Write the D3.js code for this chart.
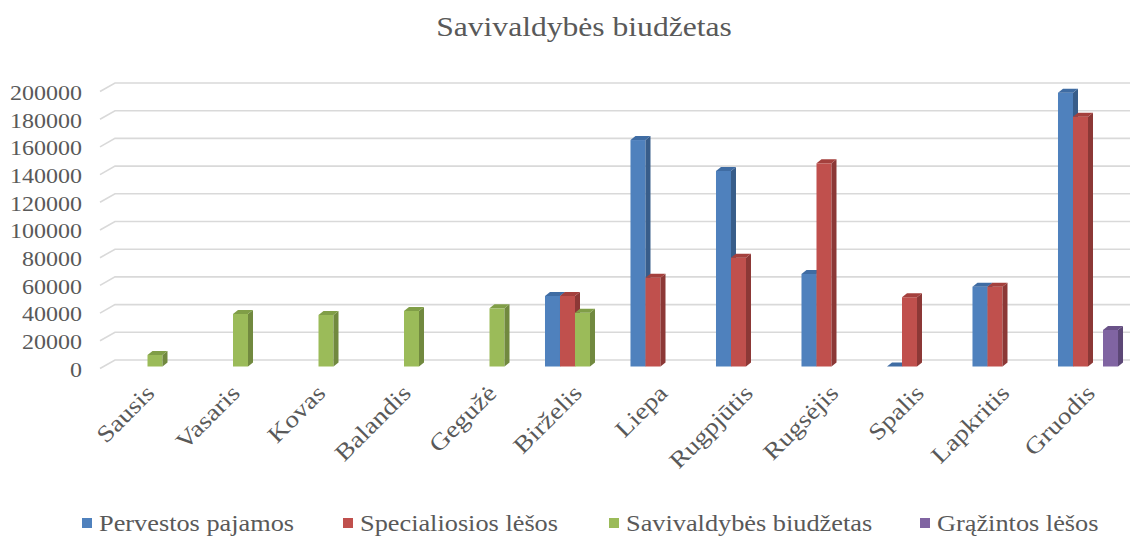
<!DOCTYPE html>
<html><head><meta charset="utf-8">
<script src="https://cdn.jsdelivr.net/npm/d3@7"></script>
<style>body{margin:0;background:#fff}svg{display:block}text{font-family:"Liberation Serif","Times New Roman",serif;fill:#595959}</style>
</head><body><svg id="c" width="1130" height="537"></svg>
<script>
const months = ["Sausis","Vasaris","Kovas","Balandis","Gegužė","Birželis","Liepa","Rugpjūtis","Rugsėjis","Spalis","Lapkritis","Gruodis"];
const seriesNames = ["Pervestos pajamos","Specialiosios lėšos","Savivaldybės biudžetas","Grąžintos lėšos"];
const pervestos   = [null,null,null,null,null,50900,163500,141200,66800,0,57600,197700];
const specialiosios=[null,null,null,null,null,50900,64100,78600,146700,50000,57600,180400];
const savivaldybes= [8300,37900,37200,40100,42000,38800,null,null,null,null,null,null];
const grazintos   = [null,null,null,null,null,null,null,null,null,null,null,26400];
const yTicks = [0,20000,40000,60000,80000,100000,120000,140000,160000,180000,200000];
const colors = [
  {front:"#4F81BD", side:"#385D8A", top:"#3F6CA3"},
  {front:"#C0504D", side:"#8C3836", top:"#A4403D"},
  {front:"#9BBB59", side:"#71893F", top:"#809E47"},
  {front:"#8064A2", side:"#5C4776", top:"#6A5288"}
];
const values = [pervestos, specialiosios, savivaldybes, grazintos];
const SX = 1.17;

const svg = d3.select("#c");
const yBack = d3.scaleLinear().domain([0,200000]).range([360,83]);
const frontOff = 6.5;
const x = d3.scaleBand().domain(months).range([104.75,1130.75]).paddingInner(0.298).paddingOuter(0.149);
const xs = d3.scaleBand().domain(d3.range(4)).range([0, x.bandwidth()]);
const dx = 5, dy = 4;

const grid = svg.append("g");
yTicks.forEach(t => {
  const yb = yBack(t);
  grid.append("path")
    .attr("d", `M100,${yb+8.5}L115,${yb}L1130,${yb}`)
    .attr("fill","none").attr("stroke","#D9D9D9").attr("stroke-width",1.6);
});

yTicks.forEach(t => {
  svg.append("g").attr("transform",`translate(82,${yBack(t)+10})`)
    .append("text").attr("transform",`scale(${SX},1)`)
    .attr("text-anchor","end").attr("dominant-baseline","central")
    .attr("font-size",20.5).text(t);
});

const bars = svg.append("g");
months.forEach((m,i) => {
  values.forEach((arr,s) => {
    const v = arr[i];
    if (v === null) return;
    const x0 = x(m) + xs(s), w = xs.bandwidth();
    const y0 = yBack(0)+frontOff, y1 = yBack(v)+frontOff;
    const c = colors[s];
    const g = bars.append("g");
    if (y0 - y1 > 0.5) {
      g.append("rect").attr("x",x0).attr("y",y1).attr("width",w).attr("height",y0-y1).attr("fill",c.front);
      g.append("path").attr("d",`M${x0+w},${y1}L${x0+w+dx},${y1-dy}L${x0+w+dx},${y0-dy}L${x0+w},${y0}Z`).attr("fill",c.side);
    }
    g.append("path").attr("d",`M${x0},${y1}L${x0+dx},${y1-dy}L${x0+w+dx},${y1-dy}L${x0+w},${y1}Z`).attr("fill",c.top);
  });
});

months.forEach(m => {
  svg.append("g").attr("transform",`translate(${x(m)+x.step()/2 - 10},${389}) rotate(-45)`)
    .append("text").attr("transform",`scale(${SX},1)`)
    .attr("text-anchor","end").attr("dominant-baseline","central")
    .attr("font-size",23.5).text(m);
});

svg.append("g").attr("transform","translate(584,27)")
  .append("text").attr("transform",`scale(${SX},1)`)
  .attr("text-anchor","middle").attr("dominant-baseline","central")
  .attr("font-size",27).text("Savivaldybės biudžetas");

const legX = [82, 343, 609, 920];
seriesNames.forEach((n,i) => {
  svg.append("rect").attr("x",legX[i]).attr("y",518).attr("width",10).attr("height",10).attr("fill",colors[i].front);
  svg.append("g").attr("transform",`translate(${legX[i]+17},523)`)
    .append("text").attr("transform",`scale(${SX},1)`)
    .attr("dominant-baseline","central").attr("font-size",22.5).text(n);
});
</script></body></html>
